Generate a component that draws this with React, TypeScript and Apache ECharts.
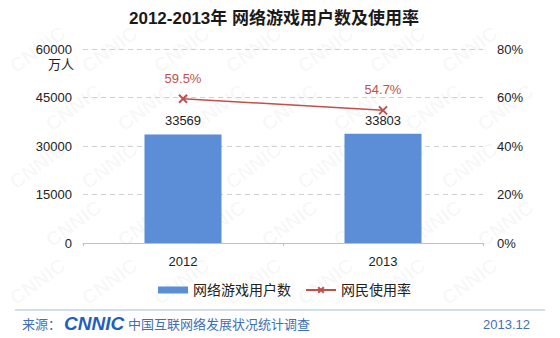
import React, { useEffect, useRef } from "react";
import * as echarts from "echarts";

const categories = ["2012", "2013"];
const users = [33569, 33803];
const rates = [59.5, 54.7];
const leftTicks = [0, 15000, 30000, 45000, 60000];
const rightTicks = [0, 20, 40, 60, 80];

const FONT = '"Liberation Sans", "Noto Sans CJK SC", sans-serif';

export default function App() {
  const ref = useRef<HTMLDivElement>(null);
  useEffect(() => {
    const chart = echarts.init(ref.current!, null, { renderer: "svg" });
    const watermarks: any[] = [];
    for (let r = 0; r < 5; r++) {
      for (let c = 0; c < 7; c++) {
        watermarks.push({
          type: "text",
          x: c * 72 + (r % 2) * 36 + 6,
          y: r * 58 + 60,
          rotation: Math.PI / 5,
          silent: true,
          z: -10,
          style: {
            text: "CNNIC",
            fill: "rgba(0,0,0,0.04)",
            font: `bold 20px ${FONT}`,
          },
        });
      }
    }
    chart.setOption({
      animation: false,
      backgroundColor: "#ffffff",
      textStyle: { fontFamily: FONT },
      title: {
        text: "2012-2013年 网络游戏用户数及使用率",
        left: 124,
        top: 5,
        textStyle: { fontSize: 17, fontWeight: "bold", color: "#1a1a1a", fontFamily: FONT },
      },
      grid: { left: 83, right: 77, top: 49, bottom: 95 },
      legend: {
        bottom: 36,
        left: 153,
        itemGap: 14,
        textStyle: { fontSize: 14, color: "#222", fontFamily: FONT },
        data: [
          { name: "网络游戏用户数", icon: "rect", itemStyle: { color: "#5B8ED6" } },
          { name: "网民使用率" },
        ],
        itemWidth: 30,
        itemHeight: 7,
      },
      xAxis: {
        type: "category",
        data: categories,
        axisLine: { lineStyle: { color: "#bfbfbf" } },
        axisTick: { show: true, lineStyle: { color: "#bfbfbf" }, length: 3 },
        axisLabel: { fontSize: 13, color: "#222", margin: 12 },
      },
      yAxis: [
        {
          type: "value",
          min: 0,
          max: 60000,
          interval: 15000,
          axisLabel: { fontSize: 13, color: "#222", margin: 11, formatter: (v: number) => String(v) },
          splitLine: { lineStyle: { color: "#d0d0d0", type: [5, 4] } },
          axisLine: { show: false },
        },
        {
          type: "value",
          min: 0,
          max: 80,
          interval: 20,
          axisLabel: { fontSize: 13, color: "#222", margin: 14, formatter: "{value}%" },
          splitLine: { show: false },
          axisLine: { show: false },
        },
      ],
      series: [
        {
          name: "网络游戏用户数",
          type: "bar",
          data: users,
          barWidth: "38.5%",
          itemStyle: { color: "#5B8ED6" },
          label: { show: true, position: "top", distance: 7, fontSize: 13, color: "#222" },
        },
        {
          name: "网民使用率",
          type: "line",
          yAxisIndex: 1,
          data: rates,
          symbol: "path://M0,0L10,10M10,0L0,10",
          symbolSize: 8,
          lineStyle: { color: "#C0504D", width: 1.5 },
          itemStyle: { color: "#C0504D", borderColor: "#C0504D", borderWidth: 2 },
          label: {
            show: true,
            position: "top",
            distance: 9,
            fontSize: 13,
            color: "#C0504D",
            formatter: "{c}%",
          },
        },
      ],
      graphic: [
        ...watermarks,
        {
          type: "text",
          left: 48,
          top: 58,
          style: { text: "万人", fill: "#222", font: `13px ${FONT}` },
        },
        {
          type: "line",
          shape: { x1: 15, y1: 310, x2: 545, y2: 310 },
          style: { stroke: "#c5d3e6", lineWidth: 1.5 },
        },
        {
          type: "text",
          x: 22,
          y: 318,
          style: { text: "来源：", fill: "#3f6fb5", font: `13px ${FONT}` },
        },
        {
          type: "text",
          x: 64,
          y: 314,
          style: { text: "CNNIC", fill: "#1f5fbf", font: `italic 900 19px ${FONT}` },
        },
        {
          type: "text",
          x: 128,
          y: 318,
          style: { text: "中国互联网络发展状况统计调查", fill: "#3f6fb5", font: `13px ${FONT}` },
        },
        {
          type: "text",
          x: 483,
          y: 318,
          style: { text: "2013.12", fill: "#3f6fb5", font: `13px ${FONT}` },
        },
      ],
    });
    return () => chart.dispose();
  }, []);
  return <div ref={ref} style={{ width: 560, height: 338, position: "absolute", left: 0, top: 0 }} />;
}
